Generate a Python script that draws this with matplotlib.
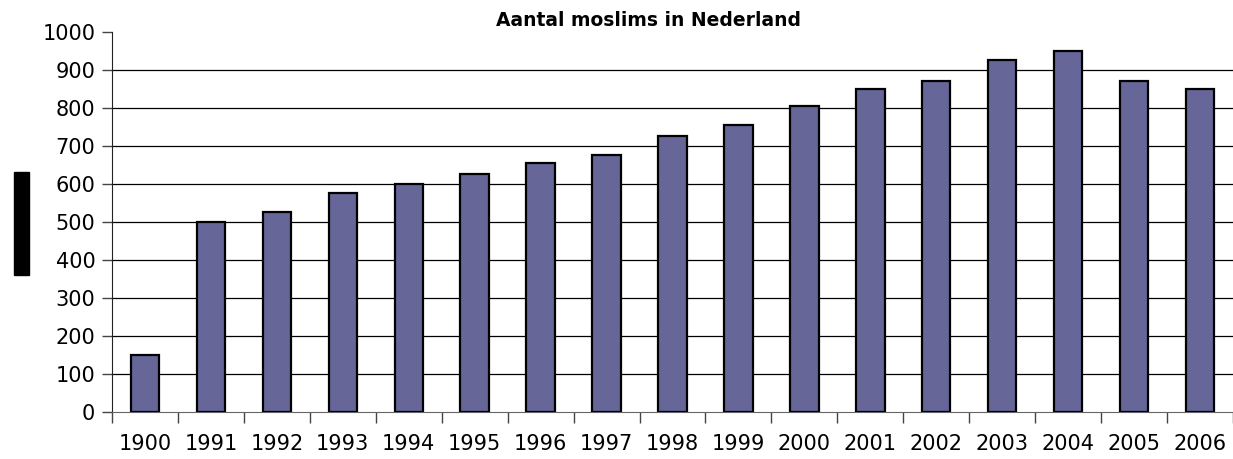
import matplotlib.pyplot as plt
from matplotlib.patches import Rectangle

jaren = ["1900", "1991", "1992", "1993", "1994", "1995", "1996", "1997", "1998",
         "1999", "2000", "2001", "2002", "2003", "2004", "2005", "2006"]
aantal = [150, 500, 525, 575, 600, 625, 655, 675, 725,
          755, 805, 850, 870, 925, 950, 870, 850]
y_ticks = [0, 100, 200, 300, 400, 500, 600, 700, 800, 900, 1000]

fig = plt.figure(figsize=(12.33, 4.59), dpi=100)
ax = fig.add_axes([112 / 1233, 1 - 412 / 459, 1 - 112 / 1233, (412 - 32) / 459])

x = list(range(len(jaren)))
ax.bar(x, aantal, width=0.43, color="#666699", edgecolor="black", linewidth=1.6, zorder=3)

# rasterlijnen (niet op 1000)
for v in y_ticks[1:-1]:
    ax.axhline(v, color="black", linewidth=0.9, zorder=1)

ax.set_xlim(-0.5, len(jaren) - 0.5)
ax.set_ylim(0, 1000)
ax.set_yticks(y_ticks)
ax.tick_params(axis="y", labelsize=15, length=7, width=1, color="#444444", pad=5)

# tick-streepjes tussen de staven, labels in het midden
ax.set_xticks([i - 0.5 for i in range(len(jaren) + 1)])
ax.set_xticklabels([])
ax.set_xticks(x, minor=True)
ax.set_xticklabels(jaren, minor=True, fontsize=15)
ax.tick_params(axis="x", which="major", length=8, width=1, color="#444444")
ax.tick_params(axis="x", which="minor", length=0, pad=16)

for s in ["top", "right"]:
    ax.spines[s].set_visible(False)
ax.spines["left"].set_color("#222222")
ax.spines["bottom"].set_color("#666666")

fig.text(648 / 1233, 1 - 21 / 459, "Aantal moslims in Nederland", ha="center", va="center",
         fontsize=13.5, fontweight="bold", family="DejaVu Sans")

# zwart blok links (onleesbaar label)
fig.patches.append(Rectangle((14 / 1233, 1 - 275 / 459), 15 / 1233, 103 / 459,
                             transform=fig.transFigure, color="black"))

fig.savefig("out.png", dpi=100)
